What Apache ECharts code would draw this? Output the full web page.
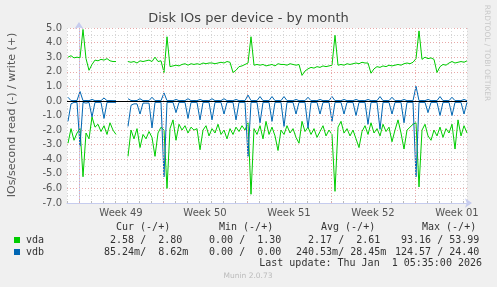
<!DOCTYPE html>
<html><head><meta charset="utf-8">
<script src="https://cdn.jsdelivr.net/npm/echarts@6/dist/echarts.min.js"></script>
<style>html,body{margin:0;padding:0;background:#f0f0f0}#c{width:497px;height:287px}</style>
</head><body><div id="c"></div>
<script>
// x axis: days; 0 = start of week 49 grid line
const weekLabels = ['Week 49','Week 50','Week 51','Week 52','Week 01'];
const weekLabelDays = [3.5, 10.5, 17.5, 24.5, 31.5];
const weekStartDays = [0, 7, 14, 21, 28];
const startDay = -11/12;   // time of first sample
const stepDay = 0.25;      // 6 h between samples

const vdaWrite = [3.0,3.1,2.95,3.0,2.95,4.9,2.9,2.1,2.5,2.8,2.75,2.85,2.8,2.9,2.75,2.7,2.7,null,null,null,
 2.7,2.65,2.7,2.6,2.75,2.7,2.75,2.8,2.7,3.0,2.7,2.75,1.95,4.4,2.35,2.4,2.45,2.4,2.5,2.55,
 2.45,2.55,2.5,2.55,2.5,2.6,2.55,2.6,2.6,2.55,2.6,2.65,2.6,2.7,2.65,1.95,2.1,2.35,2.4,2.5,
 2.6,4.4,2.45,2.5,2.45,2.5,2.4,2.45,2.5,2.4,2.55,2.5,2.5,2.45,2.55,2.5,2.45,2.5,1.75,2.05,
 2.2,2.3,2.25,2.35,2.3,2.4,2.35,2.4,2.45,4.5,2.45,2.5,2.45,2.55,2.5,2.55,2.6,2.55,2.65,2.6,
 2.6,1.9,2.2,2.35,2.3,2.4,2.35,2.45,2.4,2.45,2.5,2.45,2.55,2.6,2.55,2.65,2.9,4.8,2.85,3.0,
 2.9,2.95,2.85,1.95,2.35,2.5,2.45,2.6,2.7,2.6,2.65,2.7,2.65,2.75];

const vdaRead = [-2.9,-1.9,-2.7,-2.2,-1.9,-5.2,-2.2,-2.6,-1.1,-1.8,-1.6,-2.1,-1.7,-2.3,-1.5,-2.0,-2.3,null,null,null,
 -3.8,-2.0,-2.6,-1.9,-3.2,-2.3,-2.6,-2.1,-2.5,-3.8,-2.2,-1.8,-2.0,-6.0,-1.9,-1.3,-2.7,-1.6,-2.0,-1.7,
 -2.2,-1.8,-2.0,-1.9,-3.35,-2.0,-1.7,-2.4,-1.9,-2.2,-1.6,-2.3,-2.0,-2.6,-1.9,-2.3,-1.8,-2.1,-1.7,-2.0,
 -1.5,-6.4,-1.9,-2.3,-1.7,-2.6,-1.4,-2.3,-1.8,-2.4,-3.4,-2.0,-2.3,-1.7,-2.2,-1.9,-2.5,-2.9,-1.4,-2.1,
 -1.8,-2.3,-1.9,-2.5,-2.1,-1.7,-2.4,-2.0,-2.3,-6.2,-1.8,-1.4,-2.2,-1.9,-2.4,-2.0,-2.6,-3.2,-2.1,-1.7,
 -2.3,-1.5,-2.2,-1.9,-2.4,-1.6,-2.1,-1.8,-2.8,-2.0,-1.3,-2.2,-3.3,-2.0,-1.8,-1.6,-1.5,-5.9,-2.0,-1.6,
 -2.4,-2.7,-2.0,-2.4,-1.8,-2.5,-1.9,-2.2,-1.6,-3.3,-1.3,-2.4,-1.7,-2.2];

const vdbWrite = [0.25,0.02,0.02,0.03,0.65,0.02,0.03,0.02,0.1,0.02,0.03,0.02,0.2,0.02,0.03,0.02,0.02,null,null,null,
 0.15,0.03,0.02,0.03,0.15,0.02,0.03,0.02,0.25,0.02,0.03,0.02,0.55,0.02,0.03,0.02,0.1,0.02,0.03,0.02,
 0.15,0.02,0.03,0.02,0.1,0.02,0.03,0.02,0.15,0.02,0.03,0.02,0.15,0.02,0.03,0.02,0.1,0.02,0.03,0.02,
 0.4,0.02,0.03,0.02,0.3,0.02,0.03,0.02,0.3,0.02,0.03,0.02,0.3,0.02,0.03,0.02,0.1,0.02,0.03,0.02,
 0.25,0.02,0.03,0.02,0.1,0.02,0.03,0.02,0.3,0.02,0.03,0.02,0.1,0.02,0.03,0.02,0.1,0.02,0.03,0.02,
 0.1,0.02,0.03,0.02,0.3,0.02,0.03,0.02,0.25,0.02,0.03,0.02,0.1,0.02,0.03,0.02,1.0,0.02,0.03,0.02,
 0.1,0.02,0.03,0.02,0.3,0.02,0.03,0.02,0.25,0.02,0.03,0.02,0.1,0.02];

const vdbRead = [-1.4,-0.2,-0.1,-0.1,-3.1,-0.1,-0.15,-0.1,-1.1,-0.1,-0.1,-0.1,-1.2,-0.1,-0.1,-0.1,-0.1,null,null,null,
 -1.75,-0.3,-0.2,-0.2,-0.9,-0.15,-0.15,-0.15,-1.85,-0.1,-0.1,-0.1,-5.2,-0.1,-0.1,-0.1,-0.8,-0.1,-0.1,-0.1,
 -1.2,-0.1,-0.1,-0.1,-1.3,-0.1,-0.1,-0.1,-1.3,-0.1,-0.1,-0.1,-0.9,-0.1,-0.1,-0.1,-1.3,-0.1,-0.1,-0.1,
 -3.8,-0.1,-0.1,-0.1,-1.5,-0.1,-0.1,-0.1,-1.4,-0.1,-0.1,-0.1,-1.75,-0.1,-0.1,-0.1,-0.9,-0.1,-0.1,-0.1,
 -1.85,-0.1,-0.1,-0.1,-0.9,-0.1,-0.1,-0.1,-1.4,-0.1,-0.1,-0.1,-0.9,-0.1,-0.1,-0.1,-1.0,-0.1,-0.1,-0.1,
 -1.6,-0.1,-0.1,-0.1,-1.95,-0.1,-0.1,-0.1,-0.9,-0.1,-0.1,-0.1,-1.5,-0.1,-0.1,-0.1,-5.2,-0.1,-0.1,-0.1,
 -0.8,-0.1,-0.1,-0.1,-1.0,-0.1,-0.1,-0.1,-1.0,-0.1,-0.1,-0.1,-0.9,-0.1];

const legendNames = ['vda', 'vdb'];
const legendColors = ['#00cc00', '#0066b3'];
const headers = ['Cur (-/+)', 'Min (-/+)', 'Avg (-/+)', 'Max (-/+)'];
const curVals = [['2.58','2.80'], ['85.24m','8.62m']];
const minVals = [['0.00','1.30'], ['0.00','0.00']];
const avgVals = [['2.17','2.61'], ['240.53m','28.45m']];
const maxVals = [['93.16','53.99'], ['124.57','24.40']];
const lastUpdate = 'Last update: Thu Jan  1 05:35:00 2026';
const yTicks = [-7,-6,-5,-4,-3,-2,-1,0,1,2,3,4,5];

function toXY(arr){ return arr.map((v,i)=>[startDay + i*stepDay, v]); }
function pad(s){ let num = s, suf = ' '; if (/[a-zA-Z]$/.test(s)) { num = s.slice(0,-1); suf = s.slice(-1); } while (num.length < 6) num = ' ' + num; return num + suf; }
function cell(p){ return pad(p[0]) + '/' + pad(p[1]); }

const chart = echarts.init(document.getElementById('c'), null, {renderer:'canvas'});
const axisCol = '#c6ccee';
const mono = '10px "DejaVu Sans Mono", monospace';
const sans = '"DejaVu Sans", sans-serif';
const txtCol = '#333';

const graphic = [
  {type:'text', x:248.5, y:19, style:{text:'Disk IOs per device - by month', font:'13px '+sans, fill:'#444', align:'center', verticalAlign:'middle'}},
  {type:'text', x:12, y:115, rotation:Math.PI/2, style:{text:'IOs/second read (-) / write (+)', font:'11px '+sans, fill:'#555', align:'center', verticalAlign:'middle'}},
  {type:'text', x:487, y:53, rotation:-Math.PI/2, style:{text:'RRDTOOL / TOBI OETIKER', font:'7.5px '+sans, fill:'#c8c8c8', align:'center', verticalAlign:'middle'}},
  {type:'text', x:248, y:276, style:{text:'Munin 2.0.73', font:'7.5px '+sans, fill:'#bbb', align:'center', verticalAlign:'middle'}},
  {type:'text', x:482, y:263, style:{text:lastUpdate, font:mono, fill:txtCol, align:'right', verticalAlign:'middle'}}
];
const headerX = [116, 219, 321, 422];
headers.forEach((h,k)=>graphic.push({type:'text', x:headerX[k], y:227, style:{text:h, font:mono, fill:txtCol, align:'left', verticalAlign:'middle'}}));
const cellX = [98, 197, 296, 395];
const cols = [curVals, minVals, avgVals, maxVals];
legendNames.forEach((n,r)=>{
  const y = 240 + r*12;
  graphic.push({type:'rect', shape:{x:14, y:y-3, width:6, height:6}, style:{fill:legendColors[r]}});
  graphic.push({type:'text', x:26, y:y, style:{text:n, font:mono, fill:txtCol, align:'left', verticalAlign:'middle'}});
  cols.forEach((c,k)=>graphic.push({type:'text', x:cellX[k], y:y, style:{text:cell(c[r]), font:mono, fill:txtCol, align:'left', verticalAlign:'middle'}}));
});

const lineSeries = (name, data, color, z) => ({
  name, type:'line', data: toXY(data), showSymbol:false, symbol:'none', connectNulls:false,
  lineStyle:{color, width:1}, itemStyle:{color}, z, animation:false
});

chart.setOption({
  backgroundColor:'#f0f0f0',
  animation:false,
  grid:{left:67, top:28, width:400, height:175, show:true, backgroundColor:'#ffffff', borderWidth:0},
  xAxis:{
    type:'value', min:-1, max:-1 + 400/12, interval:1,
    axisLine:{show:true, onZero:false, lineStyle:{color:axisCol, width:1}, symbol:['none','arrow'], symbolSize:[7,7], symbolOffset:[0,5]},
    axisTick:{show:true, inside:true, length:2, lineStyle:{color:'#bbb'}},
    splitLine:{show:true, lineStyle:{color:'#d6d6d6', type:[1,2], width:1}},
    axisLabel:{show:true, customValues:weekLabelDays, margin:5, color:'#555', fontFamily:'DejaVu Sans', fontSize:10,
      formatter:(v)=>{ const k = weekLabelDays.indexOf(v); return k>=0 ? weekLabels[k] : ''; }}
  },
  yAxis:{
    type:'value', min:yTicks[0], max:yTicks[yTicks.length-1], interval:1,
    axisLine:{show:true, lineStyle:{color:axisCol, width:1}, symbol:['none','arrow'], symbolSize:[7,7], symbolOffset:[0,6]},
    axisTick:{show:false},
    splitLine:{show:true, lineStyle:{color:'#e8a8a8', type:[1,2], width:1}},
    minorTick:{show:false, splitNumber:2},
    minorSplitLine:{show:true, lineStyle:{color:'#d6d6d6', type:[1,2], width:1}},
    axisLabel:{margin:5, color:'#555', fontFamily:'DejaVu Sans', fontSize:10, formatter:(v)=>v.toFixed(1)}
  },
  graphic,
  series:[
    Object.assign(lineSeries('vda write', vdaWrite, '#00cc00', 2), {
      markLine:{silent:true, symbol:['none','none'], label:{show:false}, animation:false,
        lineStyle:{color:'#e8a8a8', type:[1,2], width:1},
        data: weekStartDays.map(d=>({xAxis:d}))}
    }),
    lineSeries('vda read', vdaRead, '#00cc00', 2),
    lineSeries('vdb write', vdbWrite, '#0066b3', 3),
    lineSeries('vdb read', vdbRead, '#0066b3', 3),
    {type:'line', data:[], z:5, markLine:{silent:true, symbol:['none','none'], label:{show:false}, animation:false,
      lineStyle:{color:'#000', type:'solid', width:1}, data:[{yAxis:0}]}}
  ]
});
</script></body></html>
